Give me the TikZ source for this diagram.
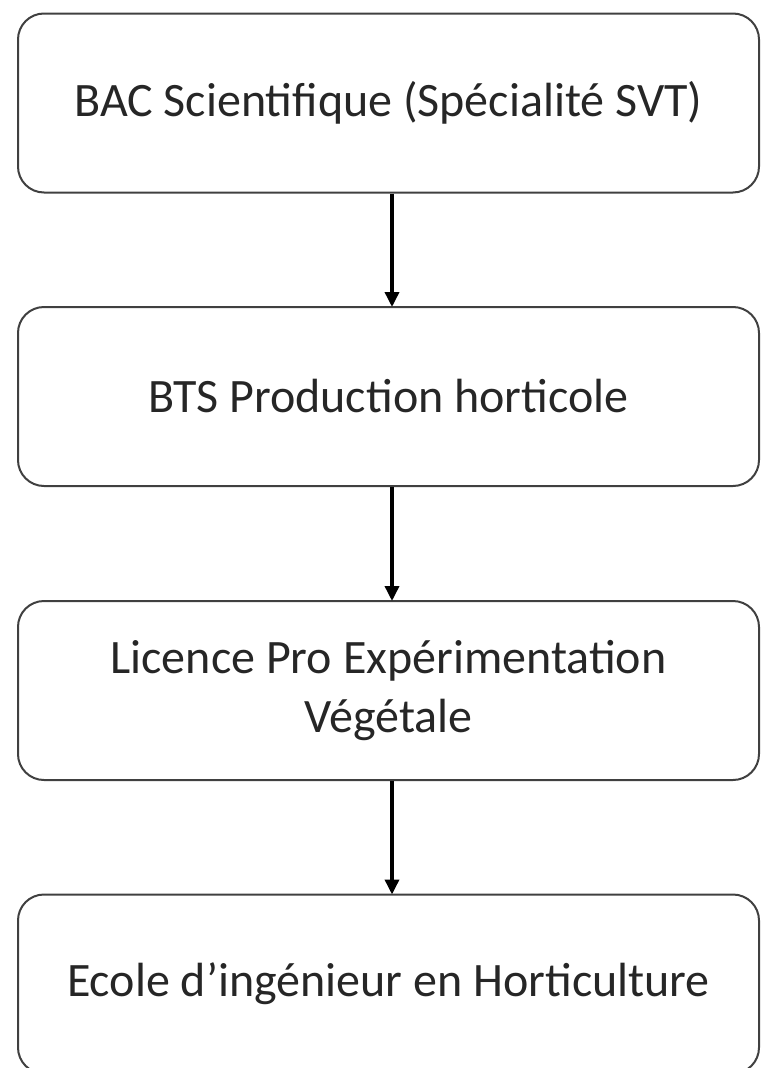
\documentclass[tikz,border=0pt]{standalone}
\usepackage{fontspec}
\setmainfont{Carlito}
\usetikzlibrary{arrows.meta}
\begin{document}
\begin{tikzpicture}[x=1pt,y=1pt,
  stepbox/.style={draw=black!75, line width=2pt, rounded corners=26pt,
    minimum width=741pt, minimum height=179pt, inner sep=0pt, align=center,
    font=\fontsize{48}{59}\selectfont, text=black!85},
  flow/.style={line width=3.5pt, -{Triangle[width=14pt,length=15pt]}, shorten >=-1pt}]
\useasboundingbox (0,0) rectangle (762,-1068);
\node[stepbox] (a) at (388.5,-103) {BAC Scientifique (Spécialité SVT)};
\node[stepbox] (b) at (388.5,-396.5) {BTS Production horticole};
\node[stepbox] (c) at (388.5,-690.5) {Licence Pro Expérimentation\\Végétale};
\node[stepbox] (d) at (388.5,-984) {Ecole d’ingénieur en Horticulture};
\draw[flow] ([xshift=3.5pt]a.south) -- ([xshift=3.5pt]b.north);
\draw[flow] ([xshift=3.5pt]b.south) -- ([xshift=3.5pt]c.north);
\draw[flow] ([xshift=3.5pt]c.south) -- ([xshift=3.5pt]d.north);
\end{tikzpicture}
\end{document}
